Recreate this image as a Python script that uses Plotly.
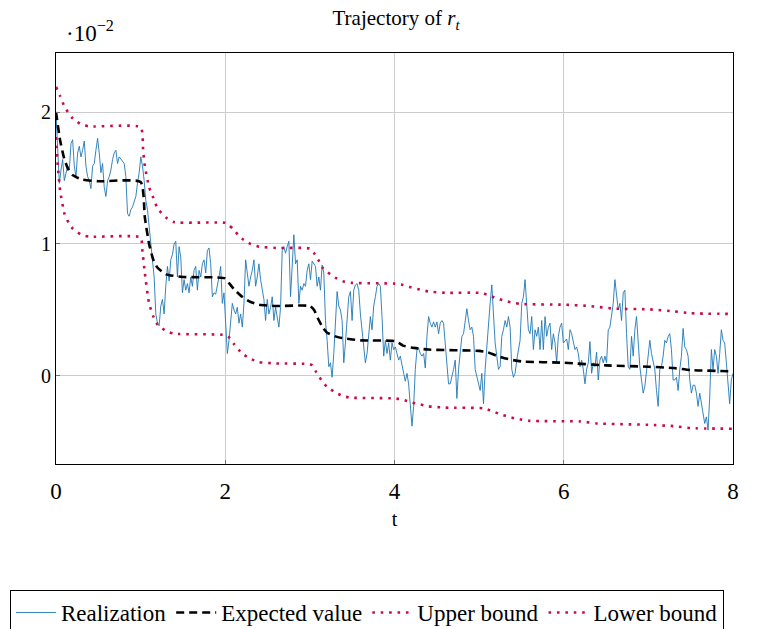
import numpy as np
import plotly.graph_objects as go

# Realization values (in units of 1e-2), uniform time grid over [0, 8]
realization = [
    1.99, 1.71, 1.46, 1.56, 1.64, 1.48, 1.54, 1.59, 1.56, 1.76, 1.79, 1.59, 1.51, 1.69, 1.74, 1.66, 1.71, 1.78,
    1.59, 1.51, 1.48, 1.42, 1.59, 1.61, 1.71, 1.80, 1.69, 1.54, 1.61, 1.43, 1.36, 1.48, 1.51, 1.56, 1.64, 1.69,
    1.71, 1.61, 1.66, 1.64, 1.62, 1.61, 1.51, 1.23, 1.21, 1.26, 1.28, 1.33, 1.36, 1.46, 1.54, 1.66, 1.59, 1.48,
    1.33, 1.26, 1.13, 1.03, 0.90, 0.75, 0.47, 0.40, 0.38, 0.53, 0.58, 0.47, 0.68, 0.83, 0.72, 0.88, 0.92,
    # segment 2
    1.00, 1.02, 0.75, 0.98, 0.90, 0.63, 0.73, 0.65, 0.70, 0.63, 0.75, 0.68, 0.80, 0.83, 0.65, 0.80, 0.75, 0.85,
    0.88, 0.78, 0.95, 0.97, 0.85, 0.60, 0.63, 0.62, 0.68, 0.75, 0.83, 0.55, 0.63, 0.40, 0.17, 0.27, 0.42, 0.55,
    0.50, 0.47, 0.52, 0.40, 0.47, 0.37, 0.55, 0.88, 0.78, 0.68, 0.75, 0.80, 0.88, 0.68, 0.75, 0.85, 0.73, 0.65,
    0.58, 0.42, 0.58, 0.47, 0.52, 0.60, 0.42, 0.52, 0.45, 0.37, 0.52, 0.95, 0.98,
    # segment 3
    0.93, 0.98, 1.02, 0.60, 0.88, 1.07, 0.85, 0.88, 0.55, 0.68, 0.65, 0.70, 0.68, 0.80, 0.85, 0.73, 0.87, 0.85,
    0.83, 0.68, 0.75, 0.65, 0.84, 0.78, 0.42, 0.27, 0.07, 0.10, -0.01, 0.17, 0.42, 0.64, 0.53, 0.50, 0.42, 0.10,
    0.25, 0.42, 0.60, 0.64, 0.42, 0.65, 0.69, 0.70, 0.65, 0.47, 0.35, 0.22, 0.10, 0.17, 0.32, 0.45, 0.35, 0.53,
    0.60, 0.68, 0.70, 0.68, 0.45, 0.15, 0.27, 0.17, 0.25, 0.12, 0.25, 0.20, 0.22, 0.17, 0.12,
    # segment 4
    0.15, 0.07, 0.02, -0.04, 0.02, -0.06, -0.26, -0.38, -0.23, 0.05, 0.20, 0.21, 0.17, 0.15, 0.17, 0.06, 0.30,
    0.45, 0.40, 0.37, 0.41, 0.37, 0.41, 0.32, 0.40, 0.42, 0.40, 0.22, 0.07, -0.06, -0.06, -0.01, 0.05, 0.12,
    -0.17, 0.05, 0.17, 0.30, 0.32, 0.42, 0.51, 0.42, 0.35, 0.37, 0.30, 0.05, -0.01, -0.06, -0.11, 0.02, -0.21,
    0.05, 0.22, 0.45, 0.55, 0.69, 0.50, 0.25, 0.15, 0.05, 0.07, 0.30, 0.35, 0.42, 0.37, 0.45, 0.37, 0.05, -0.01,
    # segment 5
    0.02, 0.12, 0.20, 0.27, 0.55, 0.60, 0.73, 0.53, 0.35, 0.32, 0.45, 0.20, 0.35, 0.30, 0.37, 0.20, 0.42, 0.20,
    0.45, 0.30, 0.37, 0.40, 0.20, 0.32, 0.25, 0.10, 0.30, 0.37, 0.40, 0.25, 0.27, 0.28, 0.20, 0.35, 0.32, 0.25,
    0.20, 0.22, 0.17, 0.07, 0.12, 0.05, -0.06, 0.05, 0.10, 0.26, 0.02, 0.10, 0.07, 0.18, -0.03, 0.12, 0.15, 0.10,
    0.15, 0.10, 0.35, 0.37, 0.47, 0.55, 0.73, 0.60, 0.50, 0.55, 0.42, 0.63,
    # segment 6
    0.65, 0.32, 0.07, 0.05, 0.30, 0.15, 0.35, 0.45, 0.25, 0.07, -0.03, -0.13, -0.08, 0.05, 0.17, 0.27, 0.17,
    0.12, 0.05, -0.11, -0.23, 0.05, 0.07, 0.15, 0.27, 0.25, 0.30, 0.32, 0.20, -0.03, -0.03, -0.01, -0.11, 0.05,
    0.15, 0.36, 0.22, 0.20, 0.15, -0.03, -0.13, -0.07, -0.07, -0.13, -0.23, -0.13, -0.21, -0.31, -0.36, -0.31,
    -0.41, -0.16, 0.20, 0.05, 0.20, 0.15, 0.02, 0.17, 0.35, 0.27, 0.25, 0.10, -0.03, -0.21, -0.03, 0.02,
]
t_real = np.linspace(0, 8, len(realization))

# Expected value knots
t_mean = [0.0, 0.05, 0.10, 0.15, 0.20, 0.30, 0.50, 1.00, 1.05, 1.10, 1.15, 1.20, 1.30, 1.50, 2.00,
          2.05, 2.10, 2.20, 2.30, 2.40, 2.60, 3.00, 3.05, 3.10, 3.15, 3.20, 3.30, 3.40, 3.60, 4.00,
          4.05, 4.10, 4.20, 4.40, 5.00, 5.10, 5.20, 5.30, 5.40, 5.50, 6.00, 6.50, 7.00, 7.30, 7.50, 8.00]
mean_vals = [2.00, 1.78, 1.64, 1.56, 1.52, 1.49, 1.475, 1.47, 1.20, 1.00, 0.88, 0.82, 0.77, 0.75, 0.74,
             0.70, 0.66, 0.60, 0.56, 0.54, 0.53, 0.53, 0.50, 0.43, 0.37, 0.33, 0.30, 0.285, 0.27, 0.265,
             0.25, 0.23, 0.215, 0.20, 0.19, 0.18, 0.155, 0.135, 0.12, 0.11, 0.10, 0.08, 0.07, 0.06, 0.045, 0.035]

# Upper bound knots
t_up = [0.0, 0.05, 0.10, 0.15, 0.20, 0.30, 0.40, 1.00, 1.03, 1.05, 1.10, 1.15, 1.20, 1.30, 1.40, 2.00,
        2.05, 2.10, 2.15, 2.20, 2.30, 2.40, 2.60, 3.00, 3.05, 3.10, 3.15, 3.20, 3.30, 3.40, 3.50, 4.00,
        4.10, 4.20, 4.30, 4.40, 4.60, 5.00, 5.10, 5.20, 5.30, 5.40, 5.50, 6.00, 6.30, 6.60, 7.00, 7.30,
        7.50, 8.00]
up_vals = [2.19, 2.12, 2.04, 1.99, 1.95, 1.905, 1.89, 1.885, 1.70, 1.59, 1.43, 1.35, 1.27, 1.20, 1.165, 1.16,
           1.14, 1.11, 1.07, 1.04, 1.00, 0.98, 0.97, 0.965, 0.93, 0.88, 0.82, 0.79, 0.745, 0.715, 0.705, 0.70,
           0.69, 0.67, 0.655, 0.64, 0.63, 0.63, 0.615, 0.59, 0.57, 0.555, 0.545, 0.54, 0.53, 0.51, 0.505, 0.49,
           0.475, 0.47]

# Lower bound knots
t_lo = [0.0, 0.02, 0.05, 0.10, 0.15, 0.20, 0.30, 0.40, 1.00, 1.02, 1.05, 1.10, 1.15, 1.20, 1.30, 1.40, 2.00,
        2.05, 2.10, 2.20, 2.30, 2.40, 2.60, 3.00, 3.03, 3.07, 3.10, 3.15, 3.20, 3.30, 3.40, 3.50, 4.00,
        4.10, 4.20, 4.30, 4.40, 4.60, 5.05, 5.15, 5.25, 5.35, 5.45, 5.60, 6.20, 6.40, 7.00, 7.30, 7.50, 8.00]
lo_vals = [1.81, 1.60, 1.40, 1.23, 1.16, 1.115, 1.07, 1.055, 1.05, 0.955, 0.78, 0.55, 0.45, 0.39, 0.34, 0.32, 0.31,
           0.29, 0.245, 0.17, 0.13, 0.105, 0.095, 0.09, 0.08, 0.035, 0.005, -0.045, -0.08, -0.125, -0.155, -0.165, -0.17,
           -0.18, -0.20, -0.215, -0.23, -0.24, -0.245, -0.265, -0.29, -0.31, -0.325, -0.34, -0.345, -0.36, -0.37, -0.38,
           -0.395, -0.40]

y_ticks = [0, 1, 2]
x_ticks = [0, 2, 4, 6, 8]

FONT = "'Liberation Serif', 'DejaVu Serif', serif"
RED = "rgb(200,12,75)"

fig = go.Figure()
fig.add_trace(go.Scatter(x=t_real, y=realization, mode="lines", name="Realization",
                         line=dict(color="#1f77b4", width=0.9)))
fig.add_trace(go.Scatter(x=t_mean, y=mean_vals, mode="lines", name="Expected value",
                         line=dict(color="black", width=2.6, dash="8px,5px", shape="spline", smoothing=0.5)))
fig.add_trace(go.Scatter(x=t_up, y=up_vals, mode="lines", name="Upper bound",
                         line=dict(color=RED, width=2.6, dash="2.6px,5.8px", shape="spline", smoothing=0.5)))
fig.add_trace(go.Scatter(x=t_lo, y=lo_vals, mode="lines", name="Lower bound",
                         line=dict(color=RED, width=2.6, dash="2.6px,5.8px", shape="spline", smoothing=0.5)))

axis_common = dict(showline=True, linecolor="black", linewidth=1, mirror=True,
                   showgrid=True, gridcolor="#cccccc", gridwidth=1, zeroline=False,
                   ticks="inside", ticklen=4, tickcolor="#777", automargin=False)

fig.update_layout(
    width=776, height=629,
    margin=dict(l=48, r=51, t=45, b=173, autoexpand=False),
    paper_bgcolor="white", plot_bgcolor="white",
    font=dict(family=FONT, color="black", size=16),
    title=dict(text="Trajectory of <i>r</i><sub><i>t</i></sub>", x=0.5, xanchor="center",
               y=0.984, yanchor="middle", font=dict(size=21), automargin=False),
    xaxis=dict(range=[0, 8], tickvals=x_ticks, tickfont=dict(size=23), ticklabelstandoff=6,
               title=dict(text="t", font=dict(size=20), standoff=9), **axis_common),
    yaxis=dict(range=[-0.667, 2.447], tickvals=y_ticks, tickfont=dict(size=20), **axis_common),
    legend=dict(orientation="h", x=-0.068, xanchor="left", y=-0.3066, yanchor="top",
                bordercolor="black", borderwidth=1, font=dict(size=23), bgcolor="white",
                itemwidth=40, tracegroupgap=0),
    showlegend=True,
)
fig.add_annotation(text="·10<sup>−2</sup>", xref="paper", yref="paper", x=0.012, y=1.052,
                   xanchor="left", yanchor="middle", showarrow=False, font=dict(size=23))

fig.write_html("out.html")
